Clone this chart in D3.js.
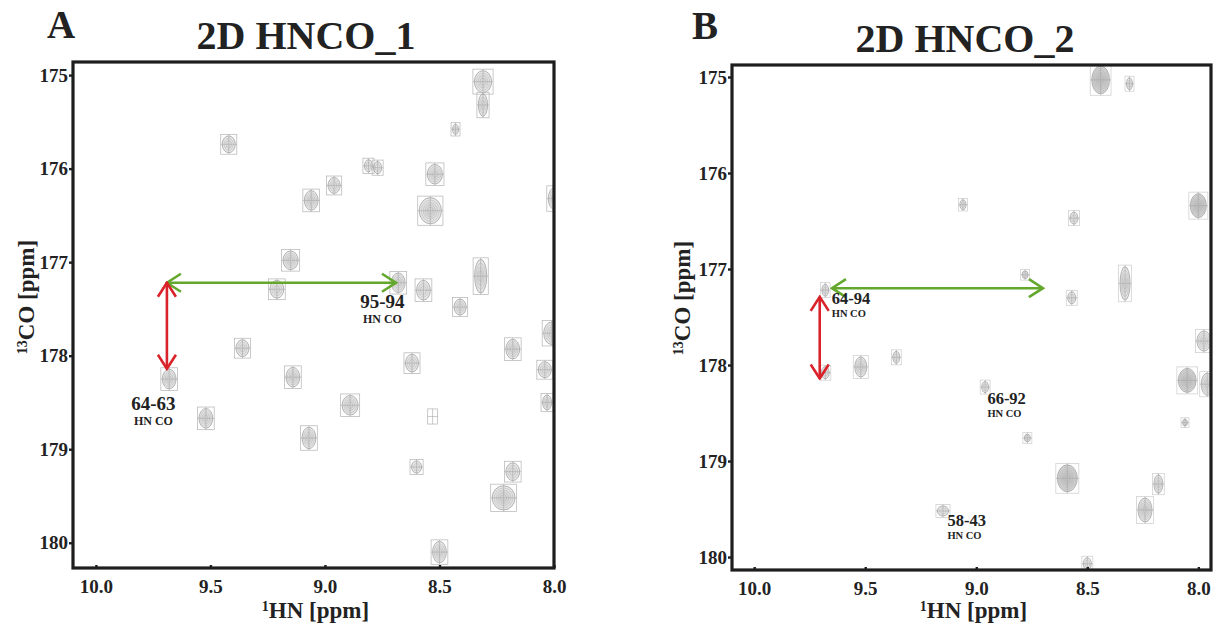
<!DOCTYPE html>
<html>
<head>
<meta charset="utf-8">
<script src="https://cdn.jsdelivr.net/npm/d3@7"></script>
<style>
  body { margin: 0; background: #fff; }
  svg { display: block; }
  text { font-family: "Liberation Serif", "Times New Roman", serif; font-weight: bold; fill: #222; }
</style>
</head>
<body>
<svg id="chart" width="1222" height="624"></svg>
<script>
// axis ranges (ppm)
var hnTicks = [10.0, 9.5, 9.0, 8.5, 8.0];
var coTicks = [175, 176, 177, 178, 179, 180];
var hnRangeA = [10.1, 8.0], coRangeA = [174.86, 180.27];
var hnRangeB = [10.1, 7.943], coRangeB = [174.875, 180.135];

// peaks: [HN ppm, CO ppm, width HN ppm, width CO ppm, intensity level]
var peaksA = [
  [8.31, 175.07, 0.075, 0.235, 3], [8.31, 175.32, 0.04, 0.24, 2], [8.43, 175.58, 0.026, 0.11, 1],
  [9.42, 175.74, 0.057, 0.18, 2], [8.81, 175.97, 0.035, 0.13, 1], [8.77, 175.99, 0.035, 0.13, 1],
  [8.52, 176.06, 0.066, 0.21, 3], [8.96, 176.18, 0.053, 0.17, 2], [9.06, 176.34, 0.06, 0.21, 3],
  [8.54, 176.45, 0.097, 0.28, 4], [7.995, 176.32, 0.06, 0.24, 3], [9.15, 176.98, 0.066, 0.2, 3],
  [9.21, 177.29, 0.06, 0.19, 2], [8.68, 177.22, 0.06, 0.21, 3], [8.57, 177.3, 0.06, 0.21, 2],
  [8.32, 177.15, 0.053, 0.36, 3], [8.41, 177.48, 0.053, 0.17, 2], [8.01, 177.76, 0.07, 0.24, 3],
  [9.36, 177.92, 0.057, 0.18, 2], [8.18, 177.93, 0.06, 0.21, 3], [8.62, 178.08, 0.057, 0.19, 2],
  [9.14, 178.23, 0.06, 0.21, 3], [9.68, 178.25, 0.06, 0.21, 3], [8.04, 178.15, 0.057, 0.17, 2],
  [8.03, 178.5, 0.04, 0.16, 2], [8.89, 178.53, 0.07, 0.21, 3], [9.52, 178.67, 0.06, 0.21, 3],
  [8.53, 178.65, 0.03, 0.13, 0], [9.07, 178.88, 0.06, 0.23, 3], [8.6, 179.19, 0.044, 0.13, 1],
  [8.18, 179.24, 0.06, 0.19, 2], [8.22, 179.52, 0.1, 0.26, 4], [8.5, 180.1, 0.06, 0.23, 3]
];
var peaksB = [
  [8.44, 175.03, 0.08, 0.29, 5], [8.31, 175.07, 0.027, 0.125, 1], [9.06, 176.33, 0.027, 0.1, 1],
  [8.56, 176.47, 0.036, 0.125, 1], [8.0, 176.34, 0.072, 0.25, 5], [8.78, 177.06, 0.027, 0.08, 1],
  [9.68, 177.22, 0.03, 0.125, 1], [8.57, 177.3, 0.036, 0.125, 1], [8.33, 177.15, 0.045, 0.35, 3],
  [7.975, 177.75, 0.063, 0.21, 3], [9.68, 178.08, 0.036, 0.125, 1], [9.52, 178.02, 0.054, 0.21, 3],
  [9.36, 177.92, 0.031, 0.125, 1], [8.96, 178.23, 0.031, 0.115, 1], [8.05, 178.16, 0.08, 0.25, 5],
  [7.96, 178.2, 0.054, 0.23, 3], [8.06, 178.6, 0.022, 0.07, 1], [8.77, 178.76, 0.027, 0.08, 1],
  [8.59, 179.18, 0.09, 0.28, 5], [8.18, 179.24, 0.04, 0.19, 2], [8.24, 179.51, 0.063, 0.25, 4],
  [9.15, 179.52, 0.05, 0.105, 1], [8.5, 180.07, 0.036, 0.125, 1]
];

// arrows: [HN from, CO from, HN to, CO to]
var greenA = [9.69, 177.22, 8.69, 177.22], redA = [9.69, 177.22, 9.69, 178.14];
var greenB = [9.65, 177.2, 8.7, 177.2], redB = [9.705, 177.29, 9.705, 178.14];

// assignment labels: [HN, CO, text]
var labelsA = [[8.749, 177.49, "95-94"], [9.749, 178.58, "64-63"]];
var labelsB = [[9.651, 177.365, "64-94"], [8.95, 178.407, "66-92"], [9.13, 179.677, "58-43"]];

var svg = d3.select("#chart");
var defs = svg.append("defs");

function marker(id, color) {
  defs.append("marker")
    .attr("id", id).attr("markerUnits", "userSpaceOnUse")
    .attr("viewBox", "-16 -11 18 22").attr("refX", 0).attr("refY", 0)
    .attr("markerWidth", 18).attr("markerHeight", 22).attr("orient", "auto-start-reverse")
    .append("path").attr("d", "M-14,-9L0,0L-14,9")
    .attr("fill", "none").attr("stroke", color).attr("stroke-width", 2.6);
}
marker("headG", "#63a82c");
marker("headR", "#d9222a");

function panel(p) {
  var x = d3.scaleLinear().domain(p.hn).range([p.left, p.right]);
  var y = d3.scaleLinear().domain(p.co).range([p.top, p.bottom]);
  var g = svg.append("g");

  defs.append("clipPath").attr("id", "clip" + p.id)
    .append("rect").attr("x", p.left).attr("y", p.top)
    .attr("width", p.right - p.left).attr("height", p.bottom - p.top);

  var pk = g.append("g").attr("clip-path", "url(#clip" + p.id + ")")
    .selectAll("g").data(p.peaks).enter().append("g");

  pk.each(function (d) {
    var s = d3.select(this);
    var cx = x(d[0]), cy = y(d[1]);
    var rx = Math.abs(x(d[0] + d[2] / 2) - x(d[0] - d[2] / 2)) / 2;
    var ry = Math.abs(y(d[1] + d[3] / 2) - y(d[1] - d[3] / 2)) / 2;
    s.append("rect").attr("x", cx - rx - 1.5).attr("y", cy - ry - 1.5)
      .attr("width", 2 * rx + 3).attr("height", 2 * ry + 3)
      .attr("fill", "none").attr("stroke", p.boxColor).attr("stroke-width", 0.8);
    var n = d[4];
    for (var k = 0; k < n + 1 && n > 0; k++) {
      var f = 1 - k / (n + 1.5);
      s.append("ellipse").attr("cx", cx).attr("cy", cy)
        .attr("rx", rx * f).attr("ry", ry * f)
        .attr("fill", "rgba(150,150,150," + (k === 0 ? (n > 4 ? 0.4 : 0.24) : 0.06) + ")")
        .attr("stroke", "#a2a2a2").attr("stroke-width", k === 0 ? 0.8 : 0.35);
    }
    s.append("line").attr("x1", cx - rx - 1.5).attr("x2", cx + rx + 1.5).attr("y1", cy).attr("y2", cy)
      .attr("stroke", "#a8a8a8").attr("stroke-width", 0.6);
    s.append("line").attr("x1", cx).attr("x2", cx).attr("y1", cy - ry - 1.5).attr("y2", cy + ry + 1.5)
      .attr("stroke", "#a8a8a8").attr("stroke-width", 0.6);
  });

  // arrows
  [[p.green, "#63a82c", "headG"], [p.red, "#d9222a", "headR"]].forEach(function (a) {
    var c = a[0];
    g.append("line").attr("x1", x(c[0])).attr("y1", y(c[1])).attr("x2", x(c[2])).attr("y2", y(c[3]))
      .attr("stroke", a[1]).attr("stroke-width", 2.6)
      .attr("marker-start", "url(#" + a[2] + ")").attr("marker-end", "url(#" + a[2] + ")");
  });

  // assignment labels
  p.labels.forEach(function (l) {
    var t = g.append("g").attr("transform", "translate(" + x(l[0]) + "," + y(l[1]) + ")");
    t.append("text").attr("text-anchor", p.anchor).style("font-size", p.labSize + "px").text(l[2]);
    t.append("text").attr("y", p.subGap).attr("text-anchor", p.anchor)
      .style("font-size", p.subSize + "px").text("HN CO");
  });

  // frame
  g.append("rect").attr("x", p.left).attr("y", p.top)
    .attr("width", p.right - p.left).attr("height", p.bottom - p.top)
    .attr("fill", "none").attr("stroke", "#1e1e1e").attr("stroke-width", 3.2);

  var ya = g.append("g").attr("transform", "translate(" + p.left + ",0)")
    .call(d3.axisLeft(y).tickValues(coTicks).tickSize(4).tickPadding(1).tickFormat(d3.format("d")));
  var xa = g.append("g").attr("transform", "translate(0," + p.bottom + ")")
    .call(d3.axisBottom(x).tickValues(hnTicks).tickSize(-3).tickPadding(7).tickFormat(d3.format(".1f")));
  [ya, xa].forEach(function (a) {
    a.select(".domain").remove();
    a.selectAll(".tick line").attr("stroke", "#1e1e1e").attr("stroke-width", 2.4);
    a.selectAll(".tick text").style("font-size", "19px").attr("fill", "#222")
      .style("font-family", "'Liberation Serif', serif").style("font-weight", "bold");
  });
  xa.selectAll(".tick text").attr("dy", "0.95em");

  // titles and axis names
  svg.append("text").attr("x", p.panelX).attr("y", p.panelY).style("font-size", "39px").text(p.id);
  svg.append("text").attr("x", p.titleX).attr("y", p.titleY).attr("text-anchor", "middle")
    .style("font-size", "40px").text(p.title);
  var xl = svg.append("text").attr("x", (p.left + p.right) / 2 + 2).attr("y", 618)
    .attr("text-anchor", "middle").style("font-size", "23px");
  xl.append("tspan").style("font-size", "14px").attr("dy", "-7").text("1");
  xl.append("tspan").attr("dy", "7").text("HN [ppm]");
  var yl = svg.append("text").attr("transform", "translate(" + p.yLabX + "," + p.yLabY + ") rotate(-90)")
    .attr("text-anchor", "middle").style("font-size", "23px");
  yl.append("tspan").style("font-size", "14px").attr("dy", "-7").text("13");
  yl.append("tspan").attr("dy", "7").text("CO [ppm]");
}

panel({
  id: "A", title: "2D HNCO_1", hn: hnRangeA, co: coRangeA, peaks: peaksA,
  left: 73, right: 554, top: 62, bottom: 568,
  green: greenA, red: redA, labels: labelsA, anchor: "middle", labSize: 19, subSize: 12, subGap: 15,
  boxColor: "#bcbcbc", panelX: 47, panelY: 38, titleX: 306, titleY: 49, yLabX: 34, yLabY: 297
});
panel({
  id: "B", title: "2D HNCO_2", hn: hnRangeB, co: coRangeB, peaks: peaksB,
  left: 732, right: 1211, top: 65, bottom: 570,
  green: greenB, red: redB, labels: labelsB, anchor: "start", labSize: 16.5, subSize: 10.5, subGap: 12.5,
  boxColor: "#d2d2d2", panelX: 692, panelY: 39, titleX: 965, titleY: 52, yLabX: 690, yLabY: 298
});
</script>
</body>
</html>
